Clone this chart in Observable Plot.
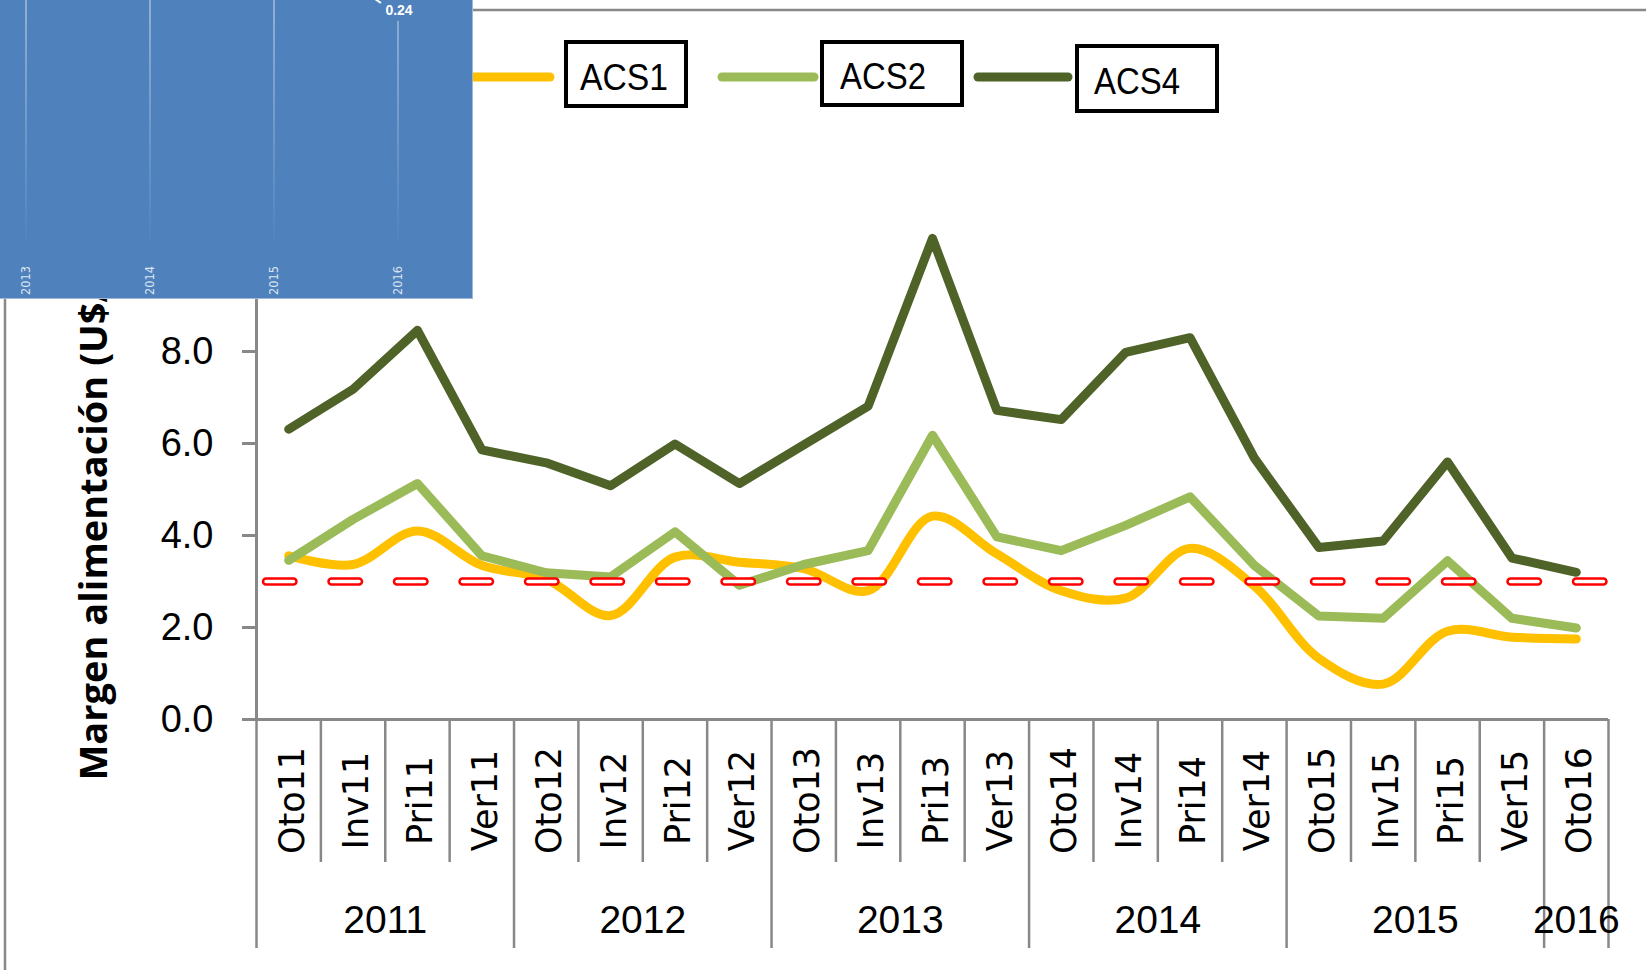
<!DOCTYPE html>
<html><head><meta charset="utf-8">
<script src="https://cdn.jsdelivr.net/npm/d3@7"></script>
<script src="https://cdn.jsdelivr.net/npm/@observablehq/plot@0.6"></script>
<style>
body{margin:0;background:#fff;}
#wrap{position:relative;width:1646px;height:970px;overflow:hidden;}
#wrap svg.overlay{position:absolute;left:0;top:0;pointer-events:none;}
</style></head><body><div id="wrap"></div>
<script>
// ---- data ----
const categories = ["Oto11","Inv11","Pri11","Ver11","Oto12","Inv12","Pri12","Ver12","Oto13","Inv13","Pri13","Ver13","Oto14","Inv14","Pri14","Ver14","Oto15","Inv15","Pri15","Ver15","Oto16"];
const years = ["2011","2012","2013","2014","2015","2016"];
const yearStart = [0,4,8,12,16,20];
const yearEnd = [3,7,11,15,19,20];
const acs1 = [3.56,3.37,4.10,3.35,3.05,2.26,3.53,3.42,3.28,2.80,4.42,3.60,2.80,2.64,3.72,2.90,1.33,0.77,1.92,1.79,1.75];
const acs2 = [3.46,4.35,5.13,3.56,3.19,3.10,4.08,2.92,3.37,3.67,6.18,3.97,3.67,4.22,4.84,3.35,2.25,2.20,3.45,2.20,1.99];
const acs4 = [6.31,7.18,8.46,5.86,5.58,5.08,5.99,5.13,5.97,6.81,10.46,6.72,6.52,7.98,8.30,5.68,3.74,3.88,5.60,3.51,3.20];
const threshold = 3;
const yTicks = [0,2,4,6,8,10,12];
const seriesNames = ["ACS1","ACS2","ACS4"];
const seriesColors = ["#FFC000","#9BBB59","#4F6228"];
const yTitle = "Margen alimentación (U$/vaca/día)";
const overlayYears = ["2013","2014","2015","2016"];
const overlayValue = "0.24";

// ---- derived ----
const n = categories.length;
const allBounds = d3.range(n + 1).map(k => k - 0.5);
const yearBounds = yearStart.map(s => s - 0.5).concat([yearEnd[yearEnd.length-1] + 0.5]);
const innerBounds = allBounds.filter(b => !yearBounds.includes(b));
const gray = "#888888";
const W = 1646, H = 970, ML = 256, MR = 38, MT = 167, MB = 251;
const frameH = H - MT - MB, frameW = W - ML - MR;

const lineOpts = (arr, k, extra={}) => Plot.line(arr, {
  x: (d,i) => i, y: d => d, stroke: seriesColors[k], strokeWidth: 9,
  strokeLinecap: "round", strokeLinejoin: "round", ...extra
});

const chart = Plot.plot({
  width: W, height: H,
  marginLeft: ML, marginRight: MR, marginTop: MT, marginBottom: MB,
  x: {domain: [-0.5, n - 0.5], axis: null},
  y: {domain: [0, 12], axis: null},
  style: {fontFamily: "Liberation Sans, Arial, sans-serif", background: "white", color: "black", overflow: "visible"},
  marks: [
    // axes lines
    Plot.ruleY([0], {stroke: gray, strokeWidth: 3}),
    Plot.ruleX([-0.5], {y1: 0, y2: 12, stroke: gray, strokeWidth: 3}),
    // y ticks + labels
    Plot.ruleY(yTicks, {y: d => d, insetLeft: -14, insetRight: frameW, stroke: gray, strokeWidth: 3}),
    Plot.text(yTicks, {y: d => d, text: d => d.toFixed(1), frameAnchor: "left", dx: -43,
      textAnchor: "end", fontSize: 38, fill: "black"}),
    // category separators
    Plot.ruleX(innerBounds, {x: d => d, insetTop: frameH, insetBottom: -143, stroke: gray, strokeWidth: 2.5}),
    Plot.ruleX(yearBounds, {x: d => d, insetTop: frameH, insetBottom: -229, stroke: gray, strokeWidth: 2.5}),
    // category labels
    Plot.text(categories, {x: (d,i) => i, text: d => d, frameAnchor: "bottom", dy: 81, dx: 15,
      rotate: -90, fontSize: 35, fontFamily: "DejaVu Sans", fill: "black"}),
    Plot.text(years, {x: (d,i) => (yearStart[i] + yearEnd[i]) / 2, text: d => d, frameAnchor: "bottom",
      dy: 213, fontSize: 39, fill: "black"}),
    Plot.text([yTitle], {text: d => d, frameAnchor: "bottom-left", dx: -150, dy: 61, rotate: -90,
      textAnchor: "start", fontWeight: "bold", fontSize: 38, fontFamily: "Open Sans", fill: "black"}),
    // series
    lineOpts(acs1, 0, {curve: "catmull-rom"}),
    lineOpts(acs2, 1),
    lineOpts(acs4, 2),
    // threshold
    Plot.ruleY([threshold], {stroke: "#FF0000", strokeWidth: 8.5, strokeDasharray: "27.5 38",
      strokeDashoffset: -10, strokeLinecap: "round"}),
    Plot.ruleY([threshold], {stroke: "white", strokeWidth: 3.5, strokeDasharray: "27.5 38",
      strokeDashoffset: -10, strokeLinecap: "round"})
  ]
});
document.getElementById("wrap").appendChild(chart);

// ---- overlay: legend, borders, blue box ----
const ov = d3.select("#wrap").append("svg").attr("class", "overlay")
  .attr("width", W).attr("height", H);

ov.append("line").attr("x1", 473).attr("x2", W).attr("y1", 10).attr("y2", 10)
  .attr("stroke", gray).attr("stroke-width", 2.5);
ov.append("line").attr("x1", 5).attr("x2", 5).attr("y1", 299).attr("y2", H)
  .attr("stroke", gray).attr("stroke-width", 2.5);

const legendLayout = [
  {line: [462, 550], box: [566, 42, 120, 64], tx: 580, base: 90, tl: 88},
  {line: [722, 814], box: [822, 42, 140, 63], tx: 840, base: 89, tl: 86},
  {line: [978, 1068], box: [1077, 46, 140, 65], tx: 1094, base: 94, tl: 86}
];
seriesNames.forEach((name, k) => {
  const L = legendLayout[k];
  ov.append("line").attr("x1", L.line[0]).attr("x2", L.line[1]).attr("y1", 77).attr("y2", 77)
    .attr("stroke", seriesColors[k]).attr("stroke-width", 9).attr("stroke-linecap", "round");
  ov.append("rect").attr("x", L.box[0]).attr("y", L.box[1]).attr("width", L.box[2]).attr("height", L.box[3])
    .attr("fill", "white").attr("stroke", "black").attr("stroke-width", 4);
  ov.append("text").attr("x", L.tx).attr("y", L.base).text(name)
    .attr("font-family", "Liberation Sans, Arial, sans-serif").attr("font-size", 37.5)
    .attr("textLength", L.tl).attr("lengthAdjust", "spacingAndGlyphs").attr("fill", "black");
});

const defs = ov.append("defs");
const grad = defs.append("linearGradient").attr("id", "fade").attr("gradientUnits", "userSpaceOnUse")
  .attr("x1", 0).attr("y1", 0).attr("x2", 0).attr("y2", 240);
grad.append("stop").attr("offset", 0).attr("stop-color", "white").attr("stop-opacity", 0.5);
grad.append("stop").attr("offset", 1).attr("stop-color", "white").attr("stop-opacity", 0.03);
ov.append("rect").attr("x", 0).attr("y", 0).attr("width", 473).attr("height", 299)
  .attr("fill", "#4F81BD");
ov.append("line").attr("x1", 472.5).attr("x2", 472.5).attr("y1", 0).attr("y2", 299)
  .attr("stroke", "#9fb6d8").attr("stroke-width", 1);
ov.append("line").attr("x1", 0).attr("x2", 473).attr("y1", 298.5).attr("y2", 298.5)
  .attr("stroke", "#9fb6d8").attr("stroke-width", 1);
const ovX = [26, 150, 274, 398];
overlayYears.forEach((yr, k) => {
  ov.append("line").attr("x1", ovX[k]).attr("x2", ovX[k]).attr("y1", k === 3 ? 21 : 0).attr("y2", 240)
    .attr("stroke", "url(#fade)").attr("stroke-width", 1.5);
  ov.append("text").attr("transform", `translate(${ovX[k] + 4},295) rotate(-90)`).text(yr)
    .attr("font-family", "DejaVu Sans, sans-serif").attr("font-size", 12)
    .attr("textLength", 29).attr("lengthAdjust", "spacingAndGlyphs")
    .attr("fill", "#dce5f1");
});
ov.append("text").attr("x", 399).attr("y", 15).attr("text-anchor", "middle").text(overlayValue)
  .attr("font-family", "Liberation Sans, Arial, sans-serif").attr("font-size", 14).attr("font-weight", "bold")
  .attr("fill", "white");
ov.append("line").attr("x1", 375).attr("y1", -1).attr("x2", 381).attr("y2", 3)
  .attr("stroke", "white").attr("stroke-width", 2);
</script></body></html>
